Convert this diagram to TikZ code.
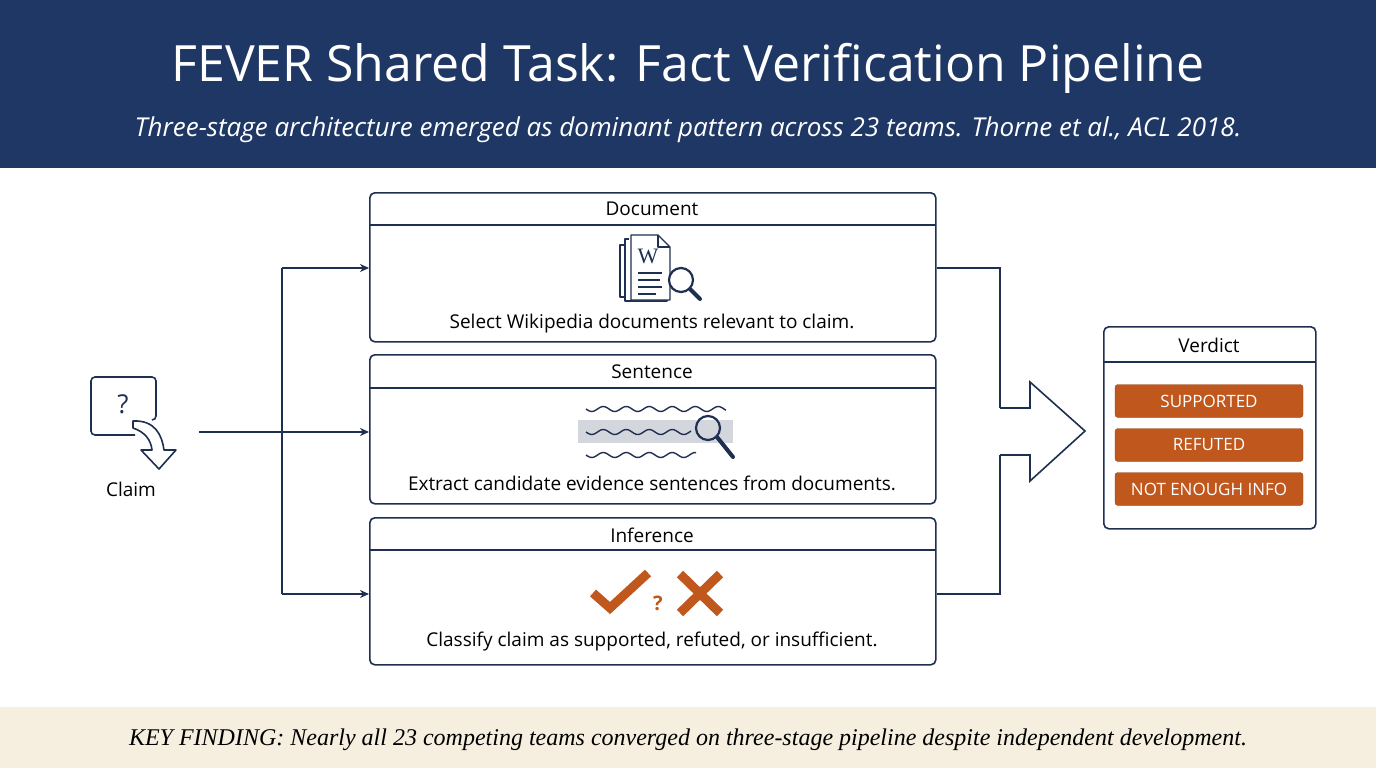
\documentclass[tikz,border=0pt]{standalone}
\usepackage{fontspec}
\setmainfont{Open Sans}
\newfontfamily\serifit{Liberation Serif}
\usetikzlibrary{arrows.meta}
\definecolor{navy}{HTML}{1E3765}
\definecolor{ink}{HTML}{1F2F52}
\definecolor{org}{HTML}{C0571D}
\definecolor{beige}{HTML}{F6EFDF}
\definecolor{hl}{HTML}{D3D6DC}
\begin{document}
\begin{tikzpicture}[x=1pt,y=-1pt,
  stage/.style={draw=ink,line width=1.6pt,rounded corners=5pt,minimum width=566pt,anchor=north west,inner sep=0pt},
  conn/.style={draw=ink,line width=1.6pt},
  arr/.style={conn,-{Stealth[length=9pt,width=8pt]}},
  btn/.style={fill=org,draw=org!80!black,rounded corners=3pt,minimum width=188pt,minimum height=33pt,text=white,font=\fontsize{17}{20}\selectfont,inner sep=0pt},
  lbl/.style={font=\fontsize{19}{22}\selectfont,text=black}]
\useasboundingbox (0,0) rectangle (1376,768);
\fill[white] (0,0) rectangle (1376,768);
\fill[navy] (0,0) rectangle (1376,168);
\node[text=white,font=\fontsize{50}{58}\selectfont] (title) at (688,68) {FEVER Shared Task: Fact Verification Pipeline};
\node[text=white,font=\itshape\fontsize{26}{30}\selectfont] (sub) at (688,130) {Three-stage architecture emerged as dominant pattern across 23 teams. Thorne et al., ACL 2018.};
\fill[beige] (0,707) rectangle (1376,768);
\node[font=\serifit\itshape\fontsize{24}{28}\selectfont] (foot) at (688,740) {KEY FINDING: Nearly all 23 competing teams converged on three-stage pipeline despite independent development.};

% stages
\node[stage,minimum height=149pt] (doc) at (369,192) {};
\node[stage,minimum height=149pt] (sen) at (369,354) {};
\node[stage,minimum height=147pt] (inf) at (369,517) {};
\draw[conn] (369,225) -- (935,225);
\draw[conn] (369,388) -- (935,388);
\draw[conn] (369,550) -- (935,550);
\node[lbl] (docT) at (652,209) {Document};
\node[lbl] (senT) at (652,372) {Sentence};
\node[lbl] (infT) at (652,535) {Inference};
\node[lbl] (docD) at (652,324) {Select Wikipedia documents relevant to claim.};
\node[lbl] (senD) at (652,483) {Extract candidate evidence sentences from documents.};
\node[lbl] (infD) at (652,642) {Classify claim as supported, refuted, or insufficient.};

% doc icon
\begin{scope}[draw=ink,line width=1.4pt,line join=round]
\draw (624,245) -- (620,245) -- (620,297) -- (650,297);
\draw[fill=white] (629,239) -- (625,239) -- (625,301) -- (667,301) -- (667,296);
\draw[fill=white] (631,235) -- (658,235) -- (670,247) -- (670,300) -- (631,300) -- cycle;
\draw (658,235) -- (658,247) -- (670,247);
\node[text=ink,font=\serifit\fontsize{22}{22}\selectfont,inner sep=0pt] (w) at (648,256) {W};
\draw (638,273) -- (662,273) (638,280) -- (660,280) (638,287) -- (662,287) (638,294) -- (656,294);
\draw[fill=white,line width=2.2pt] (681,280) circle (12);
\draw[line width=4pt,line cap=round] (690,289) -- (700,299);
\end{scope}

% sentence icon
\fill[hl] (578,420) rectangle (733,443);
\begin{scope}[draw=ink,line width=1.4pt]
\draw plot[domain=0:140,samples=90] ({\x+586},{409+2.5*sin(\x*15.652)});
\draw plot[domain=0:105,samples=70] ({\x+586},{432+2.5*sin(\x*15.652)});
\draw plot[domain=0:110,samples=70] ({\x+586},{455+2.5*sin(\x*15.652)});
\draw[line width=2.2pt] (708,428) circle (12);
\draw[line width=4pt,line cap=round] (717,437) -- (733,457);
\end{scope}

% inference icon
\draw[org,line width=9pt,line join=miter] (593,593) -- (610,608) -- (648,573);
\node[text=org,font=\fontsize{20}{20}\selectfont\bfseries] (q) at (658,603) {?};
\draw[org,line width=9pt] (680,574) -- (720,613) (720,574) -- (680,613);

% claim
\draw[ink,line width=1.6pt,rounded corners=4pt] (152,420) -- (156,420) -- (156,377) -- (91,377) -- (91,435) -- (135,435);
\node[text=ink,font=\fontsize{26}{26}\selectfont] (qm) at (123,404) {?};
\draw[ink,line width=1.6pt,fill=white,line join=round] (133,421) .. controls (155,420) and (162,435) .. (164,450) -- (176,450) -- (159,469) -- (141,450) -- (152,450) .. controls (151,440) and (145,432) .. (133,428) -- cycle;
\node[lbl] (claim) at (131,489) {Claim};
\coordinate (cs) at (199,432);
\coordinate (br) at (282,432);
\coordinate (bt) at (282,268);
\coordinate (bb) at (282,594);
\draw[conn] (cs) -- (br);
\draw[conn] (bt) -- (bb);
\draw[arr] (bt) -- (doc.west|-bt);
\draw[arr] (br) -- (sen.west|-br);
\draw[arr] (bb) -- (inf.west|-bb);

% merge arrow
\coordinate (ma) at (1000,408);
\coordinate (mb) at (1000,455);
\draw[conn] (doc.east|-bt) -- (1000,268) -- (ma);
\draw[conn] (inf.east|-bb) -- (1000,594) -- (mb);
\draw[conn,line join=miter] (ma) -- (1030,408) -- (1030,382) -- (1085,431) -- (1030,481) -- (1030,455) -- (mb);

% verdict
\node[stage,minimum width=212pt,minimum height=202pt] (ver) at (1103,326) {};
\draw[conn] (1103,362) -- (1315,362);
\node[lbl] (verT) at (1209,345) {Verdict};
\node[btn] (s1) at (1209,401) {SUPPORTED};
\node[btn] (s2) at (1209,445) {REFUTED};
\node[btn] (s3) at (1209,489) {NOT ENOUGH INFO};
\end{tikzpicture}
\end{document}
